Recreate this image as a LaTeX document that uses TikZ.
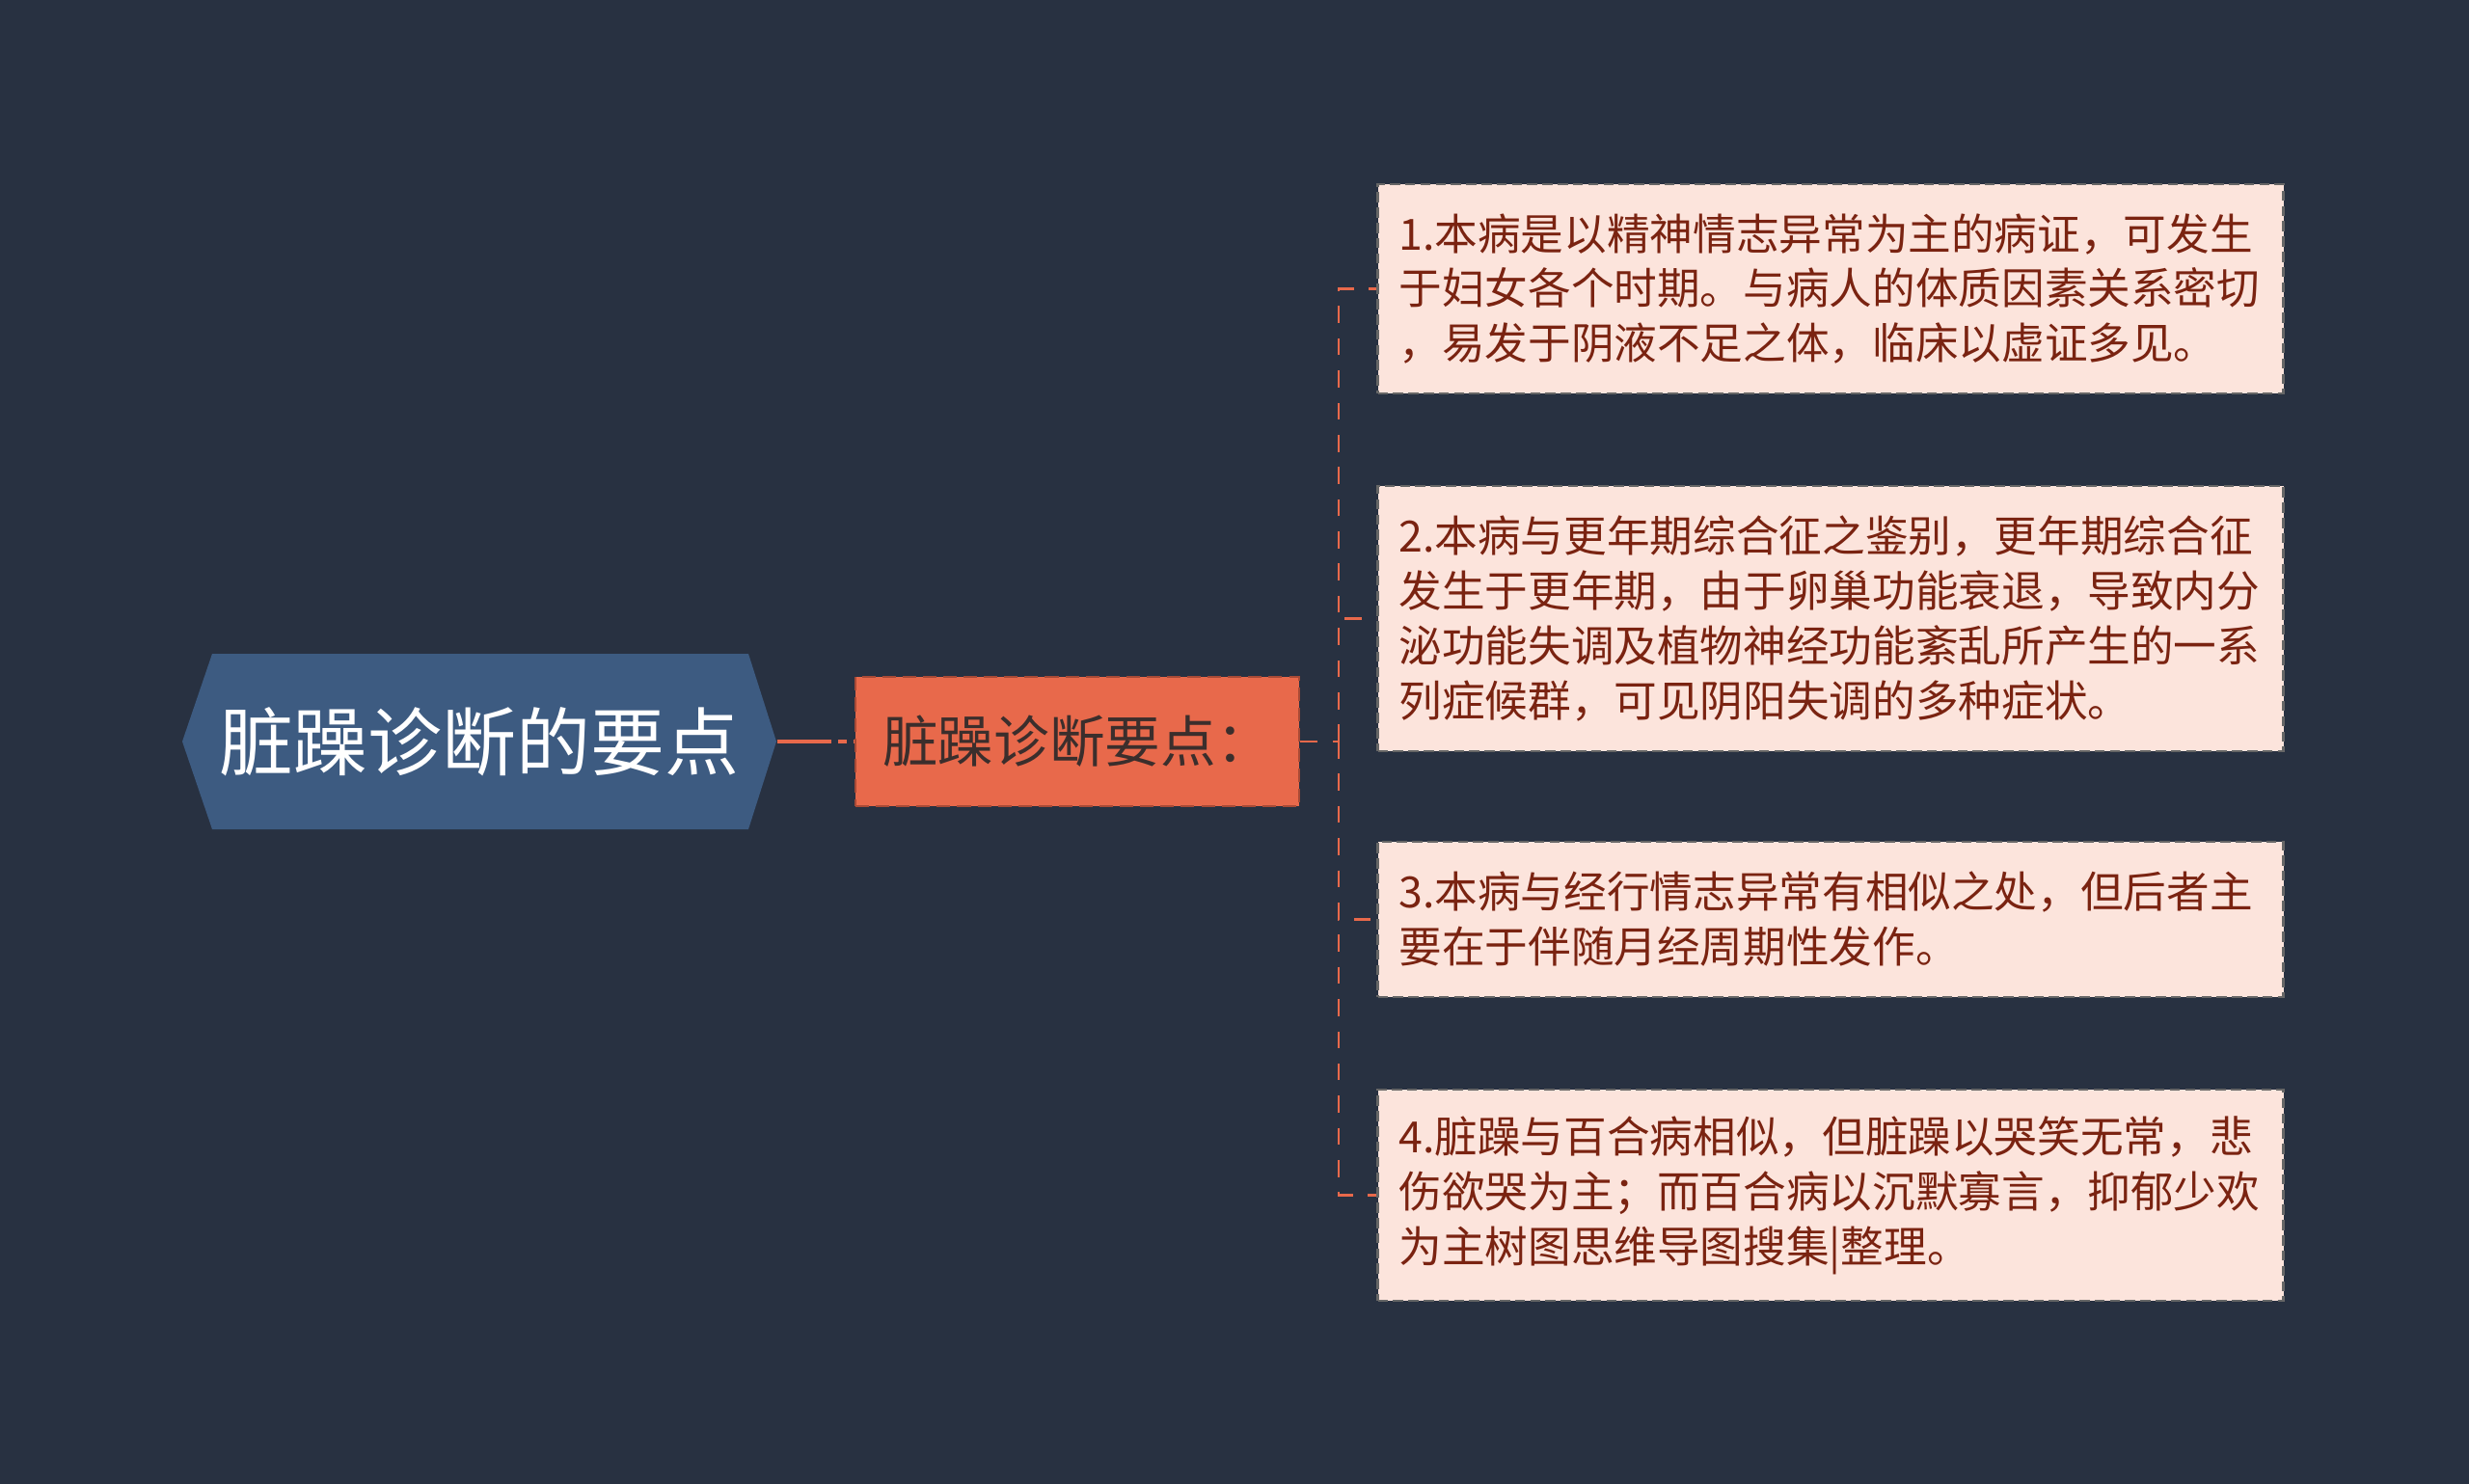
\documentclass[tikz,border=0pt]{standalone}
\usepackage{fontspec}
\setmainfont{Noto Sans CJK SC}
\usepackage{tikz}
\usetikzlibrary{calc,positioning}
\definecolor{bgnavy}{HTML}{283141}
\definecolor{rootblue}{HTML}{3D5B81}
\definecolor{midorange}{HTML}{E8694B}
\definecolor{midedge}{HTML}{A84A36}
\definecolor{leafpink}{HTML}{FCE4DC}
\definecolor{leaftext}{HTML}{7A2311}
\definecolor{midtext}{HTML}{3B2E2C}
\tikzset{
  roottext/.style={minimum width=6.16cm,minimum height=1.82cm,inner sep=0pt,text=white,font=\fontsize{21.9pt}{26pt}\selectfont},
  midbox/.style={fill=midorange,draw=midedge,dash pattern=on 4pt off 2pt,line width=0.8pt,minimum width=4.6cm,minimum height=1.34cm,inner sep=0pt,text=midtext,font=\fontsize{16.4pt}{20pt}\selectfont},
  leafbox/.style={fill=leafpink,draw=black!60,dash pattern=on 3pt off 1.5pt,line width=0.6pt,text width=8.95cm,align=left,inner xsep=0.22cm,inner ysep=0pt,text=leaftext,font=\fontsize{12.7pt}{16.2pt}\selectfont},
  branch/.style={draw=midorange,line width=0.8pt,dash pattern=on 5pt off 4.5pt}
}
\begin{document}
\begin{tikzpicture}
  \useasboundingbox (0,0) rectangle (25.6,-15.39);
  \fill[bgnavy] (0,0) rectangle (25.6,-15.39);
  % hexagon behind the root
  \fill[rootblue] (1.89,-7.69) -- (2.20,-6.78) -- (7.76,-6.78) -- (8.05,-7.69) -- (7.76,-8.60) -- (2.20,-8.60) -- cycle;
  \node[roottext] (root) at (4.97,-7.69) {脏躁诊断的要点};
  \node[midbox] (mid) at (11.17,-7.69) {脏躁诊断要点：};
  \draw[midorange,line width=1.2pt,dash pattern=on 16pt off 2pt on 2.5pt off 2pt] (root.east) -- (mid.west);
  \node[leafbox,minimum height=2.17cm] (c1) at (18.98,-2.995) {1.本病是以精神情志异常为主的病证，可发生\\于妇女各个时期。与病人的体质因素关系密切\\，易发于阴液不足之体，临床以虚证多见。};
  \node[leafbox,minimum height=2.75cm] (c2) at (18.98,-6.415) {2.本病与更年期综合征之鉴别，更年期综合征\\发生于更年期，由于卵巢功能衰退，导致内分\\泌功能失调及植物神经功能紊乱所产生的一系\\列症候群，可见阴阳失调的多种症状。};
  \node[leafbox,minimum height=1.61cm] (c3) at (18.98,-9.535) {3.本病与经行情志异常有相似之处，但后者主\\要在于伴随月经周期性发作。};
  \node[leafbox,minimum height=2.19cm] (c4) at (18.98,-12.395) {4.脏躁与百合病相似，但脏躁以哭笑无常，悲\\伤欲哭为主；而百合病以沉默寡言，抑郁少欢\\为主树图思维导图搜集|整理。};
  \coordinate (trunk) at (13.88,-7.69);
  \draw[branch] (mid.east) -- (trunk);
  \foreach \leaf in {c1,c2,c3,c4}
    \draw[branch] (trunk) |- (\leaf.west);
\end{tikzpicture}
\end{document}
